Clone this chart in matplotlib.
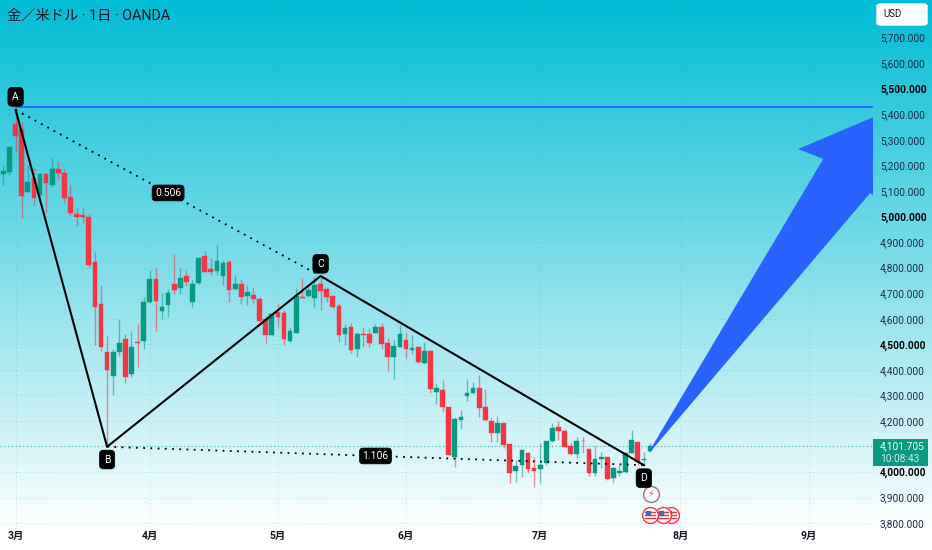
import numpy as np
from matplotlib import pyplot as plt
from matplotlib.patches import FancyBboxPatch, Rectangle

plt.rcParams['font.family'] = ['Roboto', 'Noto Sans CJK JP', 'DejaVu Sans']

opens = [5166, 5175, 5362, 5339, 5097, 5151, 5084, 5166, 5123, 5187, 5171, 5078, 5010, 5007, 4997, 4822, 4658, 4468,
         4376, 4471, 4519, 4384, 4509, 4513, 4667, 4755, 4631, 4655, 4736, 4721, 4768, 4667, 4741, 4845, 4795, 4787,
         4768, 4822, 4716, 4736, 4690, 4693, 4678, 4598, 4536, 4627, 4623, 4514, 4545, 4686, 4690, 4681, 4736, 4715,
         4689, 4650, 4540, 4568, 4480, 4540, 4540, 4543, 4566, 4504, 4451, 4490, 4517, 4478, 4488, 4425, 4472, 4314,
         4322, 4253, 4060, 4204, 4297, 4308, 4329, 4254, 4201, 4151, 4191, 4110, 4004, 4027, 4076, 4014, 4012, 4034,
         4121, 4177, 4160, 4102, 4069, 4123, 4089, 3997, 4050, 4060, 3977, 3995, 4001, 4076, 4116, 4047, 4083]
highs = [5202, 5273, 5417, 5371, 5202, 5190, 5171, 5170, 5233, 5218, 5186, 5123, 5034, 5038, 5010, 4862, 4732, 4532,
         4480, 4598, 4540, 4552, 4579, 4685, 4791, 4800, 4702, 4715, 4853, 4800, 4791, 4751, 4842, 4865, 4836, 4888,
         4830, 4830, 4771, 4754, 4732, 4725, 4685, 4611, 4621, 4658, 4634, 4568, 4719, 4760, 4732, 4764, 4767, 4725,
         4693, 4660, 4579, 4582, 4549, 4566, 4562, 4579, 4582, 4523, 4517, 4575, 4543, 4536, 4490, 4510, 4478, 4350,
         4360, 4254, 4216, 4243, 4365, 4353, 4378, 4326, 4210, 4219, 4193, 4110, 4047, 4089, 4079, 4060, 4112, 4123,
         4193, 4201, 4167, 4119, 4136, 4136, 4090, 4102, 4079, 4060, 4021, 4027, 4079, 4164, 4119, 4079, 4115]
lows = [5123, 5162, 5254, 4994, 5096, 5045, 5076, 5014, 5115, 5147, 5053, 5006, 4964, 4975, 4804, 4497, 4474, 4099,
        4301, 4454, 4350, 4373, 4412, 4480, 4661, 4552, 4598, 4605, 4696, 4696, 4729, 4645, 4736, 4783, 4771, 4771,
        4732, 4667, 4712, 4658, 4654, 4660, 4588, 4506, 4532, 4569, 4497, 4510, 4543, 4682, 4686, 4643, 4634, 4667,
        4643, 4510, 4497, 4465, 4451, 4490, 4488, 4543, 4480, 4396, 4364, 4488, 4445, 4462, 4425, 4423, 4310, 4266,
        4235, 4067, 4021, 4167, 4279, 4305, 4216, 4201, 4119, 4119, 4093, 3958, 3962, 3982, 3995, 3942, 3958, 4027,
        4119, 4125, 4097, 4067, 4054, 4073, 3984, 3984, 4014, 3969, 3958, 3984, 3997, 4076, 4027, 4027, 4079]
closes = [5179, 5273, 5316, 5081, 5136, 5074, 5166, 5130, 5187, 5171, 5071, 5014, 4999, 4999, 4810, 4646, 4490, 4399,
          4471, 4504, 4373, 4488, 4506, 4667, 4755, 4670, 4646, 4699, 4712, 4760, 4742, 4736, 4839, 4784, 4784, 4826,
          4817, 4712, 4736, 4686, 4705, 4676, 4590, 4536, 4618, 4605, 4519, 4553, 4689, 4682, 4712, 4732, 4708, 4684,
          4645, 4536, 4562, 4478, 4540, 4537, 4504, 4569, 4501, 4451, 4493, 4539, 4480, 4485, 4429, 4472, 4324, 4329,
          4253, 4067, 4209, 4216, 4308, 4329, 4252, 4204, 4151, 4191, 4107, 3997, 4023, 4086, 4012, 4003, 4027, 4121,
          4172, 4160, 4099, 4070, 4121, 4120, 3997, 4050, 4059, 3973, 4014, 4005, 4073, 4126, 4040, 4050, 4101.705]

month_bars = [2, 24, 45, 66, 88, 111, 132]
month_labels = ['3月', '4月', '5月', '6月', '7月', '8月', '9月']
price_ticks = list(range(3800, 5701, 100))

pattern_names = ['A', 'B', 'C', 'D']
pattern_bars = [2, 17, 52, 105]
pattern_prices = [5417, 4099, 4767, 4027]
ratio_labels = ['0.506', '1.106']

target_price = 5428
arrow_bars = [105.8, 134.4, 130.3, 146.2, 144.5, 142.1, 106.3]
arrow_prices = [4078, 5225, 5264, 5425, 5037, 5092, 4086]

bolt_bar = 106.1
bolt_price = 3914
flag_bars = [109.4, 108.1, 106.0]
flag_prices = [3832, 3832, 3832]

GREEN = '#089981'
RED = '#f23645'
INK = '#131722'
BLUE = '#2962ff'

fig = plt.figure(figsize=(9.32, 5.5), dpi=100)

# page background, cyan fading to white just above the time axis
bg = fig.add_axes([0, 0, 1, 1], zorder=0)
bg.axis('off')
ramp = np.clip(np.linspace(0, 550 / 530, 550), 0, 1).reshape(-1, 1, 1)
top = np.array([0, 188, 212]) / 255
bg.imshow(top + (1 - top) * ramp, aspect='auto')

ax = fig.add_axes([0, 23 / 550, 873 / 932, 527 / 550], zorder=1)
ax.patch.set_alpha(0)
ax.set_xlim(-0.557, 142.56)
ax.set_ylim(3785, 5847)
for s in ax.spines.values():
    s.set_visible(False)

ax.set_axisbelow(True)
ax.grid(True, linestyle=(0, (1, 3)), linewidth=0.7, color='#2a9fb0', alpha=0.28)

bars = np.arange(len(opens))
colors = [GREEN if c >= o else RED for o, c in zip(opens, closes)]
ax.vlines(bars, lows, highs, colors=colors, linewidth=1.0, alpha=0.55, zorder=2)
body_low = [min(o, c) for o, c in zip(opens, closes)]
body_h = [abs(o - c) for o, c in zip(opens, closes)]
ax.bar(bars, body_h, bottom=body_low, width=0.76, color=colors, edgecolor=colors, linewidth=0.3, zorder=3)

# last price line
ax.axhline(closes[-1], color=GREEN, linewidth=0.9, linestyle=(0, (1, 2)), alpha=0.55, zorder=2)

ax.plot([pattern_bars[0], 142.56], [target_price, target_price], color=BLUE, linewidth=1.3, zorder=4)
ax.fill(arrow_bars, arrow_prices, color=BLUE, linewidth=0, zorder=5)

ax.plot(pattern_bars, pattern_prices, color='black', linewidth=1.5, zorder=6)
ax.plot(pattern_bars[0::2], pattern_prices[0::2], color='black', linewidth=1.3, linestyle=(0, (1, 3)), zorder=6)
ax.plot(pattern_bars[1::2], pattern_prices[1::2], color='black', linewidth=1.3, linestyle=(0, (1, 3)), zorder=6)

box = dict(boxstyle='round,pad=0.28,rounding_size=0.35', facecolor='black', edgecolor='black', linewidth=0.5)
letter_box = dict(boxstyle='round,pad=0.42,rounding_size=0.4', facecolor='black', edgecolor='black', linewidth=0.5)
for name, b, p, dy in zip(pattern_names, pattern_bars, pattern_prices, [9.4, -9.2, 8.8, -9.4]):
    ax.annotate(name, (b, p), xytext=(0, dy), textcoords='offset points', ha='center', va='center',
                color='white', fontsize=7.5, bbox=letter_box, zorder=8)
for i, lab in enumerate(ratio_labels):
    ax.text((pattern_bars[i] + pattern_bars[i + 2]) / 2, (pattern_prices[i] + pattern_prices[i + 2]) / 2, lab,
            ha='center', va='center', color='white', fontsize=7.5, bbox=box, zorder=8)

# event icons under the last bar
ax.scatter([bolt_bar], [bolt_price], s=130, facecolor='white', edgecolor='#a56c7c', linewidth=1.0, zorder=7)
ax.text(bolt_bar, bolt_price, '⚡', ha='center', va='center', fontsize=7, color='#a56c7c',
        family=['DejaVu Sans'], zorder=8)
for k, (fb, fp) in enumerate(zip(flag_bars, flag_prices)):
    ax.scatter([fb], [fp], s=130, facecolor='white', edgecolor=RED, linewidth=1.0, zorder=7 + k * 0.1)
    for off in (-12, 0, 12):
        ax.plot([fb - 0.85, fb + 0.85], [fp + off, fp + off], color=RED, linewidth=1.0, zorder=7 + k * 0.1)
    ax.plot([fb - 0.35], [fp + 9], marker='s', markersize=3.2, color='#3a6fb0', linewidth=0, zorder=7 + k * 0.1)

ax.set_xticks(month_bars)
ax.set_xticklabels(month_labels, fontsize=7.5, fontweight='bold', color=INK)
ax.yaxis.tick_right()
ax.set_yticks(price_ticks)
ax.set_yticklabels(['' if p == 4100 else f'{p:,}.000' for p in price_ticks], fontsize=7.3, color='#1c2a45')
for lab, p in zip(ax.get_yticklabels(), price_ticks):
    if p % 500 == 0:
        lab.set_fontweight('bold')
        lab.set_color('black')
ax.tick_params(axis='both', length=0)
ax.tick_params(axis='x', pad=3)
ax.tick_params(axis='y', pad=5)

fig.text(7 / 932, 1 - 16 / 550, '金／米ドル · 1日 · OANDA', fontsize=10.3, color=INK, va='center', zorder=3)

# USD button and last price tag on the price scale
fig.add_artist(FancyBboxPatch((877 / 932, 1 - 25 / 550), 50 / 932, 21 / 550, boxstyle='round,pad=0,rounding_size=0.004',
                              facecolor='white', edgecolor='white', transform=fig.transFigure, zorder=3))
fig.text(883 / 932, 1 - 14 / 550, 'USD', fontsize=7, color=INK, va='center', zorder=4)
fig.add_artist(Rectangle((873 / 932, 1 - 466 / 550), 55 / 932, 27 / 550, facecolor=GREEN, edgecolor='none',
                         transform=fig.transFigure, zorder=3))
fig.text(880 / 932, 1 - 446 / 550, f'{closes[-1]:,.3f}', fontsize=7.3, color='white', va='center', zorder=4)
fig.text(880 / 932, 1 - 458.5 / 550, '10:08:43', fontsize=7.3, color='#cfeee8', va='center', zorder=4)

fig.savefig('out.png', dpi=100)
